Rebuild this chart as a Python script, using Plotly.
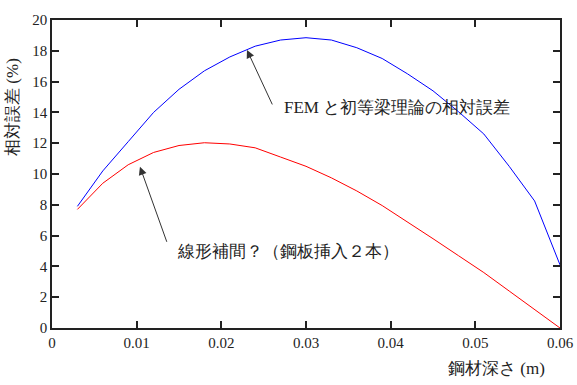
import plotly.graph_objects as go

depth = [0.003, 0.006, 0.009, 0.012, 0.015, 0.018, 0.021, 0.024, 0.027, 0.030,
         0.033, 0.036, 0.039, 0.042, 0.045, 0.048, 0.051, 0.054, 0.057, 0.060]
fem_err = [7.9, 10.2, 12.1, 14.0, 15.5, 16.7, 17.6, 18.3, 18.7, 18.85,
           18.7, 18.2, 17.5, 16.5, 15.4, 14.05, 12.6, 10.5, 8.25, 4.1]
lin_err = [7.7, 9.4, 10.6, 11.4, 11.85, 12.03, 11.95, 11.7, 11.1, 10.5,
           9.75, 8.9, 7.95, 6.9, 5.8, 4.7, 3.6, 2.4, 1.2, 0.0]

x_ticks = [0, 0.01, 0.02, 0.03, 0.04, 0.05, 0.06]
x_tick_text = ["0", "0.01", "0.02", "0.03", "0.04", "0.05", "0.06"]
y_ticks = [0, 2, 4, 6, 8, 10, 12, 14, 16, 18, 20]

label_fem = "FEM と初等梁理論の相対誤差"
label_lin = "線形補間？（鋼板挿入２本）"
x_title = "鋼材深さ (m)"
y_title = "相対誤差 (%)"

FONT = "Liberation Serif"

fig = go.Figure()
fig.add_trace(go.Scatter(x=depth, y=fem_err, mode="lines",
                         line=dict(color="#0000ff", width=1), showlegend=False))
fig.add_trace(go.Scatter(x=depth, y=lin_err, mode="lines",
                         line=dict(color="#ff0000", width=1), showlegend=False))

axis_common = dict(showgrid=False, zeroline=False, showline=True, linecolor="#222",
                   linewidth=1.5, mirror="allticks", ticks="inside", ticklen=7,
                   tickwidth=1.5, tickcolor="#222", automargin=False,
                   tickfont=dict(family=FONT, size=15, color="#222"))

fig.update_xaxes(range=[0, 0.06], tickvals=x_ticks, ticktext=x_tick_text, **axis_common)
fig.update_yaxes(range=[0, 20], tickvals=y_ticks, **axis_common)

# arrows
fig.add_annotation(x=0.02303, y=18.05, ax=0.0261, ay=14.42, axref="x", ayref="y",
                   xref="x", yref="y", text="", showarrow=True, arrowhead=2,
                   arrowsize=1.6, arrowwidth=1, arrowcolor="#333", standoff=0)
fig.add_annotation(x=0.01039, y=10.47, ax=0.01362, ay=5.5, axref="x", ayref="y",
                   xref="x", yref="y", text="", showarrow=True, arrowhead=2,
                   arrowsize=1.6, arrowwidth=1, arrowcolor="#333", standoff=0)
# labels
fig.add_annotation(x=0.02716, y=14.29, xref="x", yref="y", text=label_fem,
                   showarrow=False, xanchor="left", yanchor="middle",
                   font=dict(family=FONT, size=17, color="#222"))
fig.add_annotation(x=0.01453, y=4.94, xref="x", yref="y", text=label_lin,
                   showarrow=False, xanchor="left", yanchor="middle",
                   font=dict(family=FONT, size=17, color="#222"))
# axis titles
fig.add_annotation(x=0.974, y=-0.13, xref="paper", yref="paper", text=x_title,
                   showarrow=False, xanchor="right", yanchor="middle",
                   font=dict(family=FONT, size=17, color="#222"))
fig.add_annotation(x=-0.079, y=0.7175, xref="paper", yref="paper", text=y_title,
                   showarrow=False, xanchor="center", yanchor="middle", textangle=-90,
                   font=dict(family=FONT, size=17, color="#222"))

fig.update_layout(width=577, height=385, margin=dict(l=52, r=17, t=20, b=57),
                  plot_bgcolor="white", paper_bgcolor="white",
                  font=dict(family=FONT))

fig.write_html("out.html", config={"displayModeBar": False},
               post_script="document.body.style.margin='0';document.body.style.padding='0';")
